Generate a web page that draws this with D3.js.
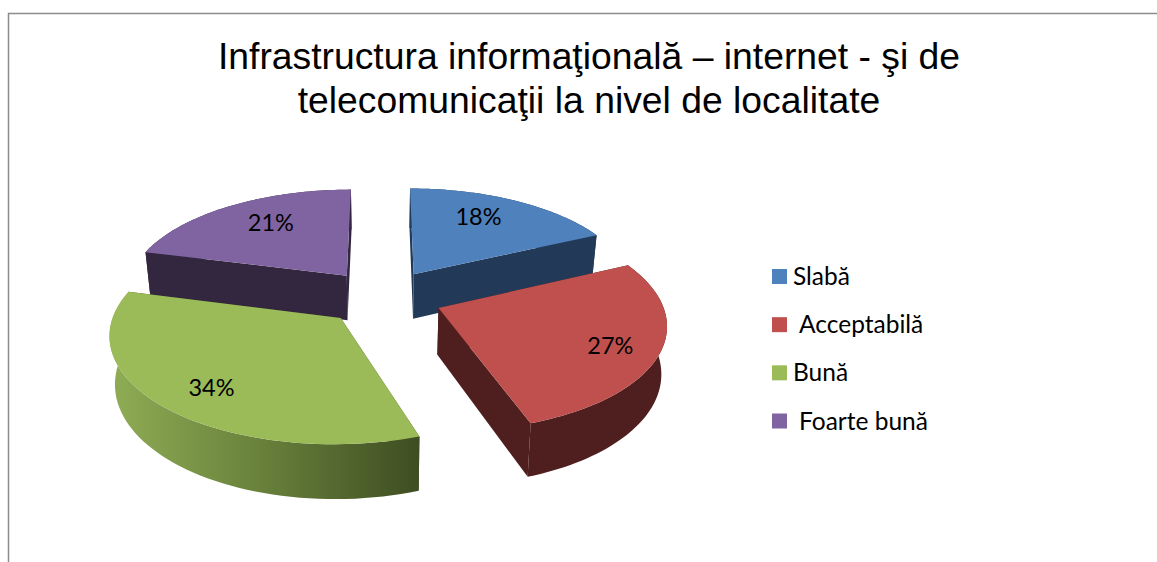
<!DOCTYPE html>
<html>
<head>
<meta charset="utf-8">
<script src="https://cdnjs.cloudflare.com/ajax/libs/d3/7.8.5/d3.min.js"></script>
<style>
  html, body { margin: 0; background: #fff; overflow: hidden; }
  svg { display: block; }
</style>
</head>
<body>
<div id="chart"></div>
<script>
const categories = ["Slabă", "Acceptabilă", "Bună", "Foarte bună"]
const values = [18, 26.75, 34.25, 21] // slices, labels are rounded
const percentLabels = ["18%", "27%", "34%", "21%"]
const titleLines = ["Infrastructura informaţională – internet - şi de", "telecomunicaţii la nivel de localitate"]

const topColors = ["#4f81bd", "#c0504d", "#9bbb59", "#8064a2"]
const wallColors = ["#223a57", "#4f1f1f", "url(#greenRim)", "#32273f"]
const drawOrder = [3, 0, 1, 2] // back slices first
const labelRadius = [0.66, 0.8, 0.75, 0.7]
const labelNudge = [[-4, -7], [-4, 3], [0, 5], [8, -3]]
const legendIndent = [0, 6, 0, 6]

const w = 1157, h = 562
const cx = 382.5, cy = 297
const rx = 222, ry = 103
const persp = 0.135    // how much the near edge grows
const explode = 0.27
const wall = 46        // pie thickness, px at depth 1
const shrink = 0.98    // bottom face is a bit farther from the eye

const xs = d3.scaleLinear().domain([-1, 1]).range([cx - rx, cx + rx])
const ys = d3.scaleLinear().domain([-1, 1]).range([cy + ry, cy - ry])

const svg = d3.select("#chart").append("svg").attr("width", w).attr("height", h)

const grad = svg.append("defs").append("linearGradient")
  .attr("id", "greenRim").attr("gradientUnits", "userSpaceOnUse")
  .attr("x1", 112).attr("x2", 420).attr("y1", 0).attr("y2", 0)
grad.append("stop").attr("offset", "0%").attr("stop-color", "#8fac55")
grad.append("stop").attr("offset", "45%").attr("stop-color", "#6b843d")
grad.append("stop").attr("offset", "100%").attr("stop-color", "#3e4d22")

// frame, only top and left edges are in the crop
svg.append("path").attr("d", d3.line()([[8.5, h], [8.5, 13.5], [w, 13.5]]))
  .attr("fill", "none").attr("stroke", "#8c8c8c").attr("stroke-width", 1.5)

svg.append("g").selectAll("text").data(titleLines).join("text")
  .attr("x", 589).attr("y", (d, i) => 69 + i * 44)
  .attr("text-anchor", "middle")
  .attr("font-family", "'Liberation Sans', Arial, sans-serif")
  .attr("font-size", "37.3px").attr("fill", "#000")
  .text(d => d)

const arcs = d3.pie().sort(null).value(d => d)(values)

// point on a slice: r along angle a, moved out along the slice's mid angle
function project(d, a, r, bottom) {
  const mid = (d.startAngle + d.endAngle) / 2
  const u = r * Math.sin(a) + explode * Math.sin(mid)
  const v = r * Math.cos(a) + explode * Math.cos(mid)
  const k = 1 + persp * v
  const sx = xs(u / k)
  const sy = ys(v / k)
  if (!bottom) return [sx, sy]
  return [cx + (sx - cx) * shrink, sy + wall / k]
}

const line = d3.line()
const rimAngles = d => d3.range(0, 61).map(i => d.startAngle + (d.endAngle - d.startAngle) * i / 60)

const slices = svg.append("g").selectAll("g").data(drawOrder.map(i => arcs[i])).join("g")

// the two radial walls
slices.selectAll("path.side").data(d => [d.startAngle, d.endAngle].map(a => ({ d, a }))).join("path")
  .attr("class", "side")
  .attr("d", s => line([
    project(s.d, s.a, 0, false), project(s.d, s.a, 1, false),
    project(s.d, s.a, 1, true), project(s.d, s.a, 0, true)
  ]) + "Z")
  .attr("fill", s => s.d.index === 2 ? "#3e4d22" : wallColors[s.d.index])

// outer rim
slices.append("path")
  .attr("d", d => {
    const as = rimAngles(d)
    return line(as.map(a => project(d, a, 1, false)).concat(as.slice().reverse().map(a => project(d, a, 1, true)))) + "Z"
  })
  .attr("fill", d => wallColors[d.index])

// top face
slices.append("path")
  .attr("d", d => line([project(d, 0, 0, false)].concat(rimAngles(d).map(a => project(d, a, 1, false)))) + "Z")
  .attr("fill", d => topColors[d.index])

const fontBody = "Lato, Carlito, Calibri, sans-serif"

svg.append("g").selectAll("text").data(arcs).join("text")
  .attr("transform", d => {
    const p = project(d, (d.startAngle + d.endAngle) / 2, labelRadius[d.index], false)
    const n = labelNudge[d.index]
    return `translate(${p[0] + n[0]},${p[1] + n[1]})`
  })
  .attr("text-anchor", "middle").attr("dy", "0.35em")
  .attr("font-family", fontBody).attr("font-size", "23.5px").attr("fill", "#000")
  .text(d => percentLabels[d.index])

const legendY = d3.scalePoint().domain(categories).range([276.5, 421])

const legend = svg.append("g").selectAll("g").data(categories).join("g")
  .attr("transform", d => `translate(772,${legendY(d)})`)
legend.append("rect").attr("x", 0).attr("y", -7.5).attr("width", 15).attr("height", 15)
  .attr("fill", (d, i) => topColors[i])
legend.append("text")
  .attr("x", (d, i) => 21 + legendIndent[i]).attr("dy", "0.35em")
  .attr("font-family", fontBody).attr("font-size", "24.5px").attr("fill", "#000")
  .text(d => d)
</script>
</body>
</html>
